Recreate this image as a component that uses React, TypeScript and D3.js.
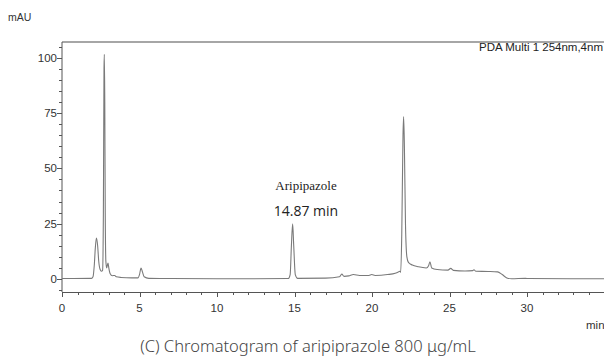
import React, { useRef, useEffect } from 'react';
import * as d3 from 'd3';

const W = 604;
const H = 358;
const PLOT = { left: 62, top: 42, right: 604, bottom: 292 };

// retention time (min), absorbance (mAU)
const trace: [number, number][] = [
  [0, 0.2], [1.9, 0.3], [2.0, 1], [2.08, 6], [2.15, 14], [2.22, 18.5], [2.3, 15],
  [2.37, 8], [2.45, 4.5], [2.55, 3.5], [2.62, 4], [2.67, 30], [2.71, 95], [2.73, 101.5],
  [2.76, 80], [2.79, 30], [2.83, 8], [2.88, 5], [2.92, 6], [2.97, 7.2], [3.02, 5],
  [3.1, 2.5], [3.25, 1.5], [3.4, 1.6], [3.5, 1], [3.8, 0.7], [4.5, 0.5], [4.9, 0.5],
  [5.0, 2], [5.1, 5], [5.2, 3], [5.3, 1], [5.6, 0.3], [7, 0.2], [10, 0.1], [14.6, 0.2],
  [14.72, 2], [14.8, 15], [14.88, 24.9], [14.95, 15], [15.05, 2], [15.2, 0.3], [17, 0.4],
  [17.9, 1], [18.05, 2.2], [18.2, 1.2], [18.5, 1.4], [18.8, 2], [19.2, 1.6], [19.8, 1.6],
  [19.98, 2], [20.2, 1.6], [21, 2], [21.5, 2.6], [21.7, 3.2], [21.78, 3.5], [21.85, 3],
  [21.92, 20], [22.0, 65], [22.04, 73.4], [22.09, 60], [22.16, 25], [22.25, 10],
  [22.35, 7.5], [22.6, 6.3], [23, 5.5], [23.5, 5], [23.65, 6], [23.74, 7.8], [23.85, 5],
  [24.2, 4.3], [24.9, 4], [25.08, 4.8], [25.25, 3.9], [26, 3.6], [26.5, 3.8], [26.58, 4.2],
  [26.7, 3.5], [27.5, 3.4], [28.1, 3.2], [28.4, 2], [28.7, 0.5], [29, 0.1], [29.9, 0.3],
  [30.1, 0.2], [35, 0.1],
];

const yMajor = [0, 25, 50, 75, 100];
const xMajor = [0, 5, 10, 15, 20, 25, 30];

export default function App() {
  const svgRef = useRef<SVGSVGElement>(null);

  useEffect(() => {
    const svg = d3.select(svgRef.current);
    svg.selectAll('*').remove();

    const x = d3.scaleLinear().domain([0, 35]).range([PLOT.left, PLOT.left + 35 * 15.5]);
    const y = d3.scaleLinear().domain([0, 100]).range([279, 57.7]);

    const axisColor = '#555';
    const sans = 'Liberation Sans, Arial, sans-serif';

    // frame: top line
    svg.append('line')
      .attr('x1', PLOT.left).attr('x2', PLOT.right)
      .attr('y1', PLOT.top).attr('y2', PLOT.top)
      .attr('stroke', '#888').attr('stroke-width', 1.5);

    // left axis
    svg.append('line')
      .attr('x1', PLOT.left).attr('x2', PLOT.left)
      .attr('y1', PLOT.top).attr('y2', PLOT.bottom)
      .attr('stroke', axisColor).attr('stroke-width', 1);

    const yMinor = d3.range(-5, 106, 5);
    svg.append('g').selectAll('line')
      .data(yMinor)
      .join('line')
      .attr('x1', d => PLOT.left - (d % 25 === 0 ? 5 : 3)).attr('x2', PLOT.left)
      .attr('y1', d => Math.round(y(d)) + 0.5).attr('y2', d => Math.round(y(d)) + 0.5)
      .attr('stroke', axisColor);

    svg.append('g').selectAll('text')
      .data(yMajor)
      .join('text')
      .attr('x', PLOT.left - 5).attr('y', d => y(d) + 4)
      .attr('text-anchor', 'end')
      .attr('font-family', sans).attr('font-size', 11.5)
      .attr('fill', '#333')
      .text(d => d);

    // bottom axis
    svg.append('line')
      .attr('x1', PLOT.left).attr('x2', PLOT.right)
      .attr('y1', PLOT.bottom + 0.5).attr('y2', PLOT.bottom + 0.5)
      .attr('stroke', axisColor);

    svg.append('g').selectAll('line')
      .data(d3.range(0, 36, 1))
      .join('line')
      .attr('x1', d => Math.round(x(d)) + 0.5).attr('x2', d => Math.round(x(d)) + 0.5)
      .attr('y1', PLOT.bottom).attr('y2', d => PLOT.bottom + (d % 5 === 0 ? 5 : 3))
      .attr('stroke', axisColor);

    svg.append('g').selectAll('text')
      .data(xMajor)
      .join('text')
      .attr('x', d => x(d)).attr('y', 312)
      .attr('text-anchor', 'middle')
      .attr('font-family', sans).attr('font-size', 11.5)
      .attr('fill', '#333')
      .text(d => d);

    // trace
    const line = d3.line<[number, number]>()
      .x(d => x(d[0]))
      .y(d => y(d[1]))
      .curve(d3.curveMonotoneX);

    svg.append('path')
      .datum(trace)
      .attr('d', line)
      .attr('fill', 'none')
      .attr('stroke', '#7a7a7a')
      .attr('stroke-width', 1.1);

    // labels
    svg.append('text')
      .attr('x', 8).attr('y', 21)
      .attr('font-family', sans).attr('font-size', 10.5)
      .attr('fill', '#333').text('mAU');

    svg.append('text')
      .attr('x', 603).attr('y', 51)
      .attr('text-anchor', 'end')
      .attr('font-family', sans).attr('font-size', 11.5)
      .attr('fill', '#222').text('PDA Multi 1 254nm,4nm');

    svg.append('text')
      .attr('x', 586).attr('y', 329)
      .attr('font-family', sans).attr('font-size', 11.5)
      .attr('fill', '#333').text('min');

    svg.append('text')
      .attr('x', 306).attr('y', 190)
      .attr('text-anchor', 'middle')
      .attr('font-family', 'Liberation Serif, Times New Roman, serif').attr('font-size', 13)
      .attr('fill', '#222').text('Aripipazole');

    svg.append('text')
      .attr('x', 306).attr('y', 216)
      .attr('text-anchor', 'middle')
      .attr('font-family', 'Open Sans, Noto Sans, sans-serif').attr('font-size', 14)
      .attr('fill', '#222').text('14.87 min');

    svg.append('text')
      .attr('x', 308).attr('y', 352)
      .attr('text-anchor', 'middle')
      .attr('font-family', 'Noto Sans, Open Sans, sans-serif').attr('font-size', 16.5)
      .attr('font-weight', 300)
      .attr('fill', '#444').text('(C) Chromatogram of aripiprazole 800 μg/mL');
  }, []);

  return (
    <svg
      ref={svgRef}
      width={W}
      height={H}
      style={{ position: 'absolute', left: 0, top: 0, background: '#fff' }}
    />
  );
}
